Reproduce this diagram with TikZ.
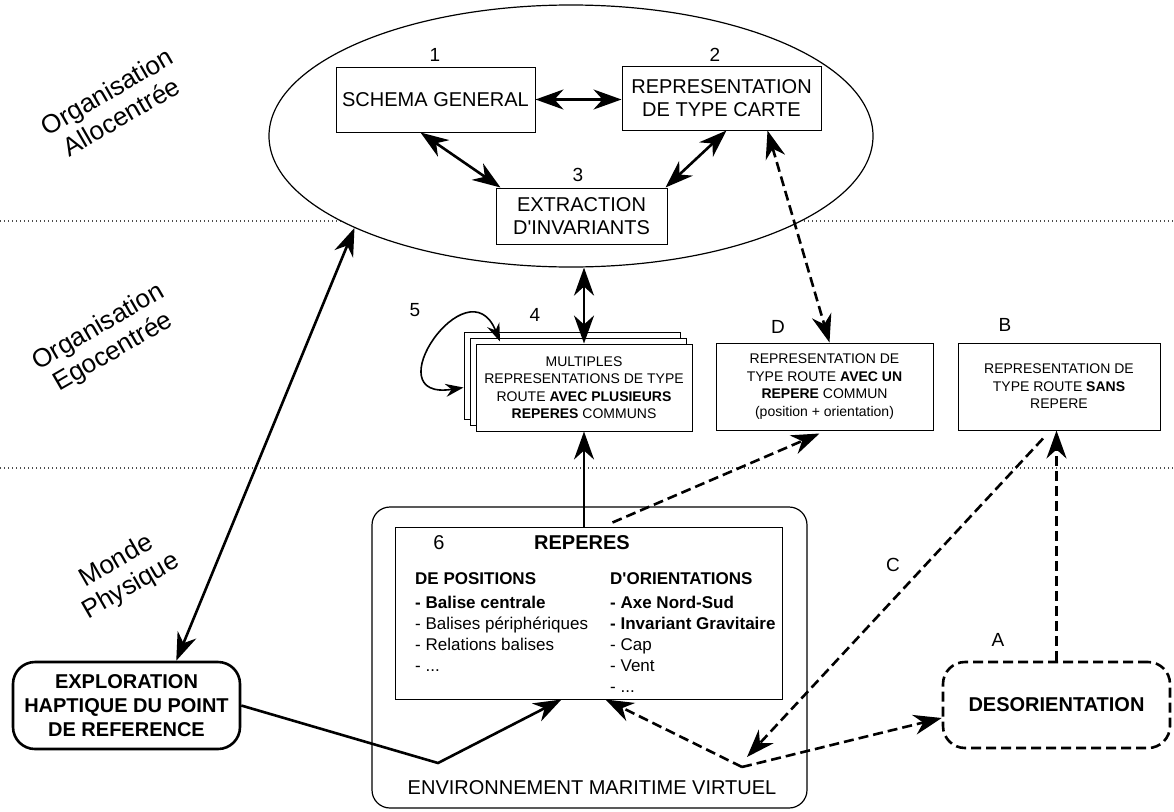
\documentclass[tikz,border=0pt]{standalone}
\usepackage{fontspec}
\setmainfont{Liberation Sans}[Ligatures=TeXOff]
\usetikzlibrary{arrows.meta,positioning,shapes.geometric,shadows,calc}
\newcommand{\fsz}[2]{\fontsize{#1}{#2}\selectfont}

\begin{document}
\begin{tikzpicture}[x=1pt,y=-1pt,
  >={Stealth[length=28pt,width=20pt,inset=9pt]},
  box/.style={draw,line width=1pt,fill=white,align=center,inner sep=0pt},
  bigtxt/.style={font=\fsz{20}{23}},
  smalltxt/.style={font=\fsz{14}{17.5}},
  numlbl/.style={font=\fsz{19}{22}},
  zone/.style={font=\fsz{26}{29},rotate=30,align=center},
  thk/.style={line width=2.6pt},
  dsh/.style={line width=2.6pt,dash pattern=on 10pt off 5pt},
  sep/.style={line width=1.2pt,dash pattern=on 1.2pt off 2.8pt,black!70}]
  \useasboundingbox (0,0) rectangle (1174,811);
  % level separators
  \draw[sep] (0,221) -- (1174,221);
  \draw[sep] (0,468) -- (1174,468);
  % level names
  \node[zone] (zallo) at (114,104) {Organisation\\Allocentrée};
  \node[zone] (zego) at (106,340) {Organisation\\Egocentrée};
  \node[zone] (zmonde) at (124,574) {Monde\\Physique};
  % allocentric organisation
  \node[ellipse,draw,line width=1.2pt,fill=white,minimum width=604pt,minimum height=262pt,inner sep=0pt] (allo) at (571,136) {};
  \node[box,bigtxt,minimum width=199pt,minimum height=65pt] (schema) at (435.5,99.5) {SCHEMA GENERAL};
  \node[box,bigtxt,minimum width=199pt,minimum height=64pt] (carte) at (721.5,98) {REPRESENTATION\\DE TYPE CARTE};
  \node[box,bigtxt,minimum width=171pt,minimum height=56pt] (extr) at (581.5,216) {EXTRACTION\\D'INVARIANTS};
  \node[numlbl] (n1) at (435,55) {1};
  \node[numlbl] (n2) at (715,55) {2};
  \node[numlbl] (n3) at (578,175) {3};
  \draw[thk,<->] (schema.east) -- (schema.east -| carte.west);
  \draw[thk,<->] ([xshift=-15pt]schema.south) -- ([xshift=5pt]extr.north west);
  \draw[thk,<->] ([xshift=5pt]carte.south) -- ([xshift=-2pt]extr.north east);
  % egocentric organisation
  \node[box,smalltxt,minimum width=216pt,minimum height=87pt,
    double copy shadow={shadow xshift=-6pt,shadow yshift=6pt,draw,fill=white,line width=1pt}] (route) at (584,387.5)
    {MULTIPLES\\REPRESENTATIONS DE TYPE\\ROUTE \textbf{AVEC PLUSIEURS}\\\textbf{REPERES} COMMUNS};
  \node[box,smalltxt,minimum width=217pt,minimum height=87pt] (dbox) at (824.5,386.5)
    {REPRESENTATION DE\\TYPE ROUTE \textbf{AVEC UN}\\\textbf{REPERE} COMMUN\\(position + orientation)};
  \node[box,smalltxt,minimum width=202pt,minimum height=87pt] (bbox) at (1059,386.5)
    {REPRESENTATION DE\\TYPE ROUTE \textbf{SANS}\\REPERE};
  \node[numlbl] (n4) at (535,315) {4};
  \node[numlbl] (n5) at (415,310) {5};
  \node[numlbl] (nd) at (778,327) {D};
  \node[numlbl] (nb) at (1005,325) {B};
  \coordinate (loopa) at ([xshift=-12pt]route.west);
  \coordinate (loopb) at ([xshift=-84pt,yshift=2pt]route.north);
  \draw[line width=1.6pt,{Stealth[length=18pt,width=13pt,inset=6pt]}-{Stealth[length=18pt,width=13pt,inset=6pt]}]
    (loopa) .. controls (372,402) and (468,262) .. (loopb);
  \draw[thk,<->] (route.north |- allo.south) -- (route.north);
  \draw[dsh,<->] ([xshift=46pt]carte.south) -- ([xshift=5pt]dbox.north);
  % physical world
  \node[draw,line width=1.2pt,rounded corners=18pt,minimum width=435pt,minimum height=301pt,inner sep=0pt] (env) at (589.5,657.5) {};
  \node[bigtxt] (envlbl) at (592,788) {ENVIRONNEMENT MARITIME VIRTUEL};
  \node[box,minimum width=387pt,minimum height=172pt] (reperes) at (588.5,613) {};
  \node[font=\fsz{20}{23}] (n6) at (439,543) {6};
  \node[font=\fsz{20}{23}\bfseries] (rtitle) at (582,543) {REPERES};
  \node[anchor=north west,align=left,inner sep=0pt,font=\fsz{17}{21}] (rpos) at (415,572)
    {\textbf{DE POSITIONS}\\[3pt]\textbf{- Balise centrale}\\- Balises périphériques\\- Relations balises\\- ...};
  \node[anchor=north west,align=left,inner sep=0pt,font=\fsz{17}{21}] (rori) at (610,572)
    {\textbf{D'ORIENTATIONS}\\[3pt]\textbf{- Axe Nord-Sud}\\\textbf{- Invariant Gravitaire}\\- Cap\\- Vent\\- ...};
  \node[draw,line width=2.6pt,rounded corners=22pt,minimum width=227pt,minimum height=87pt,align=center,
    font=\fsz{20}{24}\bfseries,inner sep=0pt] (explo) at (126.5,705.5) {EXPLORATION\\HAPTIQUE DU POINT\\DE REFERENCE};
  \node[draw,line width=2.6pt,dash pattern=on 10pt off 5pt,rounded corners=22pt,minimum width=227pt,minimum height=86pt,
    font=\fsz{20}{23}\bfseries] (desor) at (1056.5,705) {DESORIENTATION};
  \node[numlbl] (lc) at (893,565) {C};
  \node[numlbl] (la) at (998,640) {A};
  \coordinate (vpt) at (438,763);
  \coordinate (hub) at (742,767);
  \draw[thk,->] (route.south |- reperes.north) -- (route.south);
  \draw[dsh,->] ([xshift=24pt,yshift=4pt]reperes.north) -- ([xshift=-5pt,yshift=-3pt]dbox.south);
  \draw[thk,<->] (allo.203) -- (explo.42);
  \draw[thk,->] (explo.east) -- (vpt) -- ([xshift=-27pt]reperes.south);
  \draw[dsh,->] (hub) -- ([xshift=17pt]reperes.south);
  \draw[dsh,->] (hub) -- ([yshift=-13pt]desor.west);
  \draw[dsh,->] ([xshift=-16pt,yshift=-8pt]bbox.south) -- ([xshift=5pt,yshift=10pt]hub);
  \draw[dsh,->] (desor.north) -- (desor.north |- bbox.south);
\end{tikzpicture}
\end{document}
